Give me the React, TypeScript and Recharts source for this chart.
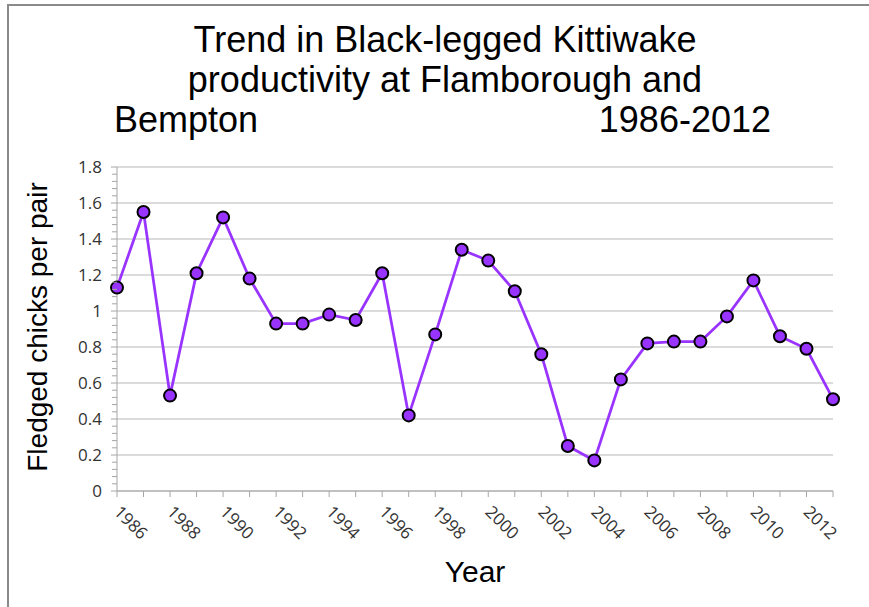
import React from "react";
import {
  LineChart,
  Line,
  XAxis,
  YAxis,
  CartesianGrid,
} from "recharts";

const YEARS = [
  1986, 1987, 1988, 1989, 1990, 1991, 1992, 1993, 1994, 1995, 1996, 1997, 1998, 1999,
  2000, 2001, 2002, 2003, 2004, 2005, 2006, 2007, 2008, 2009, 2010, 2011, 2012, 2013,
];
const PRODUCTIVITY = [
  1.13, 1.55, 0.53, 1.21, 1.52, 1.18, 0.93, 0.93, 0.98, 0.95, 1.21, 0.42, 0.87, 1.34,
  1.28, 1.11, 0.76, 0.25, 0.17, 0.62, 0.82, 0.83, 0.83, 0.97, 1.17, 0.86, 0.79, 0.51,
];
const X_LABELS = [1986, 1988, 1990, 1992, 1994, 1996, 1998, 2000, 2002, 2004, 2006, 2008, 2010, 2012];
const Y_MAJOR = [0, 0.2, 0.4, 0.6, 0.8, 1, 1.2, 1.4, 1.6, 1.8];

const TITLE_1 = "Trend in Black-legged Kittiwake";
const TITLE_2 = "productivity at Flamborough and";
const TITLE_3A = "Bempton";
const TITLE_3B = "1986-2012";
const X_TITLE = "Year";
const Y_TITLE = "Fledged chicks per pair";

const PURPLE = "#9933ff";
const AXIS = "#a6a6a6";
const GRID = "#b8b8b8";
const FRAME = "#8a8a8a";
const TICK_TEXT = "#333";
const TICK_FONT = "'Open Sans', Lato, sans-serif";
const TITLE_FONT = "'Liberation Sans', Arial, sans-serif";

// 4 minor ticks between each pair of major ticks
const Y_TICKS: number[] = [];
Y_MAJOR.forEach((v, i) => {
  Y_TICKS.push(v);
  if (i < Y_MAJOR.length - 1) {
    const step = (Y_MAJOR[i + 1] - v) / 5;
    for (let k = 1; k < 5; k++) Y_TICKS.push(Math.round((v + step * k) * 1000) / 1000);
  }
});

const data = YEARS.map((year, i) => ({ year, value: PRODUCTIVITY[i] }));

const isMajor = (v: number) => Y_MAJOR.some((m) => Math.abs(m - v) < 1e-6);

function YTick(props: any) {
  const { x, y, payload } = props;
  const major = isMajor(payload.value);
  return (
    <g>
      <line x1={x - (major ? 6 : 5)} x2={x} y1={y} y2={y} stroke={AXIS} />
      {major && (
        <text
          x={x - 15}
          y={y}
          dy={6}
          textAnchor="end"
          fontSize={17}
          fontFamily={TICK_FONT}
          fill={TICK_TEXT}
        >
          {String(payload.value)}
        </text>
      )}
    </g>
  );
}

function XTick(props: any) {
  const { x, y, payload } = props;
  const show = X_LABELS.includes(Number(payload.value));
  const tx = x - 4;
  const ty = y + 22;
  return (
    <g>
      <line x1={x} x2={x} y1={y} y2={y + 6} stroke={AXIS} />
      {show && (
        <text
          x={tx}
          y={ty}
          transform={`rotate(45, ${tx}, ${ty})`}
          textAnchor="start"
          fontSize={17}
          fontFamily={TICK_FONT}
          fill={TICK_TEXT}
        >
          {payload.value}
        </text>
      )}
    </g>
  );
}

const titleLine: React.CSSProperties = {
  position: "absolute",
  fontFamily: TITLE_FONT,
  fontSize: 36,
  lineHeight: "40px",
  color: "#000",
  whiteSpace: "nowrap",
};

export default function App() {
  return (
    <div
      style={{
        position: "fixed",
        left: 0,
        top: 0,
        width: 869,
        height: 607,
        background: "#fff",
        overflow: "hidden",
      }}
    >
      {/* frame: only the top and left edges fall inside the picture */}
      <svg width={869} height={607} style={{ position: "absolute", left: 0, top: 0 }}>
        <polyline points="8,620 8,5 880,5" fill="none" stroke={FRAME} strokeWidth={2} />
      </svg>

      <div style={{ ...titleLine, left: 45, top: 20, width: 800, textAlign: "center" }}>{TITLE_1}</div>
      <div style={{ ...titleLine, left: 45, top: 60, width: 800, textAlign: "center" }}>{TITLE_2}</div>
      <div style={{ ...titleLine, left: 114, top: 100 }}>{TITLE_3A}</div>
      <div style={{ ...titleLine, left: 371, top: 100, width: 400, textAlign: "right" }}>{TITLE_3B}</div>

      <div
        style={{
          position: "absolute",
          left: 38 - 200,
          top: 327 - 16,
          width: 400,
          lineHeight: "32px",
          textAlign: "center",
          fontFamily: TITLE_FONT,
          fontSize: 28,
          color: "#000",
          transform: "rotate(-90deg)",
          whiteSpace: "nowrap",
        }}
      >
        {Y_TITLE}
      </div>
      <div
        style={{
          position: "absolute",
          left: 375,
          top: 555,
          width: 200,
          lineHeight: "34px",
          textAlign: "center",
          fontFamily: TITLE_FONT,
          fontSize: 30,
          color: "#000",
        }}
      >
        {X_TITLE}
      </div>

      <div style={{ position: "absolute", left: 0, top: 0 }}>
        <LineChart
          width={869}
          height={607}
          data={data}
          margin={{ top: 167, right: 36, bottom: 56, left: 57 }}
        >
          <CartesianGrid
            vertical={false}
            horizontalValues={Y_MAJOR}
            stroke={GRID}
          />
          <XAxis
            dataKey="year"
            type="category"
            interval={0}
            height={60}
            axisLine={{ stroke: AXIS }}
            tickLine={false}
            tickSize={0}
            tickMargin={0}
            tick={<XTick />}
          />
          <YAxis
            type="number"
            domain={[0, 1.8]}
            ticks={Y_TICKS}
            interval={0}
            width={60}
            axisLine={{ stroke: AXIS }}
            tickLine={false}
            tickSize={0}
            tickMargin={0}
            tick={<YTick />}
          />
          <Line
            type="linear"
            dataKey="value"
            stroke={PURPLE}
            strokeWidth={2.75}
            dot={{ r: 6, fill: PURPLE, stroke: "#000", strokeWidth: 2 }}
            isAnimationActive={false}
          />
        </LineChart>
      </div>
    </div>
  );
}
